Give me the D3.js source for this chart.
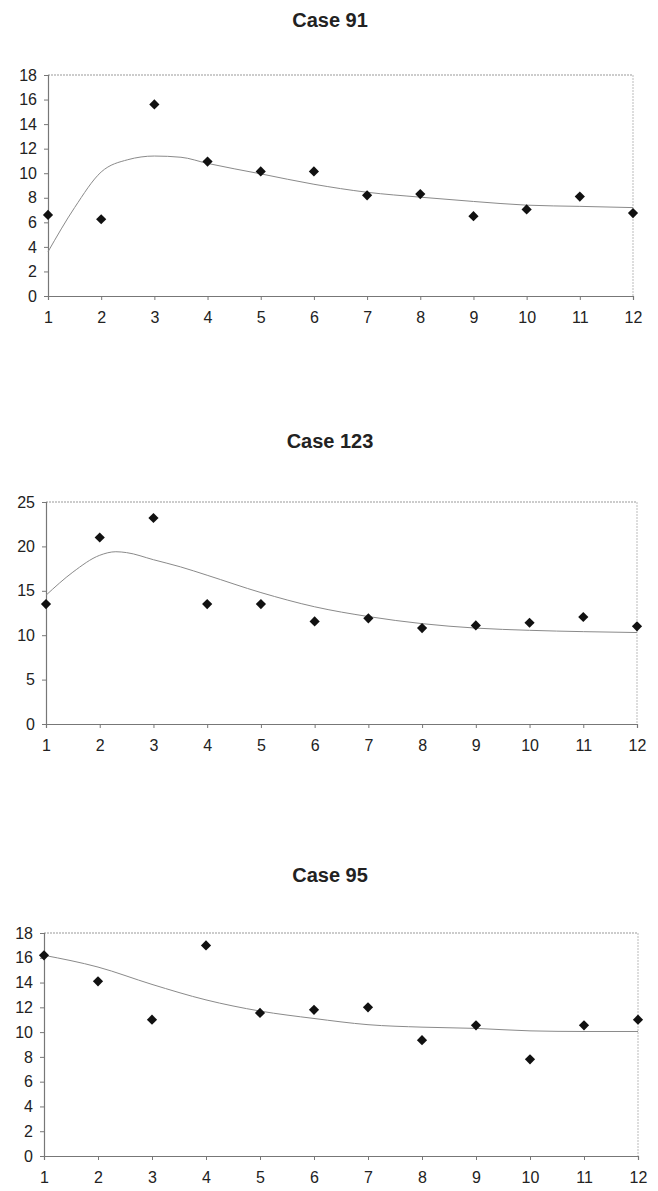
<!DOCTYPE html>
<html>
<head>
<meta charset="utf-8">
<script src="https://cdn.jsdelivr.net/npm/d3@7"></script>
<style>
  html, body { margin: 0; padding: 0; background: #fff; }
  svg { display: block; }
</style>
</head>
<body>
<svg id="chart" width="658" height="1191"></svg>
<script>
// Data
const xTicks = [1, 2, 3, 4, 5, 6, 7, 8, 9, 10, 11, 12];

// Case 91
const obs91 = [6.6, 6.25, 15.6, 10.95, 10.15, 10.15, 8.2, 8.3, 6.5, 7.05, 8.1, 6.75];
const fitX91 = [1, 1.5, 2, 2.5, 3, 3.5, 4, 5, 6, 7, 8, 9, 10, 11, 12];
const fit91 = [3.6, 7.2, 10.1, 11.1, 11.4, 11.3, 10.8, 9.95, 9.1, 8.45, 8.05, 7.7, 7.4, 7.3, 7.2];
const yTicks91 = [0, 2, 4, 6, 8, 10, 12, 14, 16, 18];

// Case 123
const obs123 = [13.5, 21.0, 23.2, 13.5, 13.5, 11.55, 11.9, 10.8, 11.1, 11.4, 12.05, 11.0];
const fitX123 = [1, 1.5, 2, 2.3, 2.5, 3, 3.5, 4, 5, 6, 7, 8, 9, 10, 11, 12];
const fit123 = [14.5, 17.1, 19.0, 19.4, 19.3, 18.5, 17.7, 16.75, 14.8, 13.2, 12.1, 11.3, 10.8, 10.55, 10.4, 10.3];
const yTicks123 = [0, 5, 10, 15, 20, 25];

// Case 95
const obs95 = [16.2, 14.1, 11.0, 17.0, 11.55, 11.8, 12.0, 9.35, 10.55, 7.8, 10.55, 11.0];
const fitX95 = [1, 2, 3, 4, 5, 6, 7, 8, 9, 10, 11, 12];
const fit95 = [16.2, 15.25, 13.85, 12.6, 11.7, 11.1, 10.6, 10.4, 10.3, 10.1, 10.05, 10.05];
const yTicks95 = [0, 2, 4, 6, 8, 10, 12, 14, 16, 18];

const svg = d3.select('#chart');
const font = "'Liberation Sans', Arial, sans-serif";

function drawPanel(opts) {
    const { title, titleY, left, right, top, bottom, yMax, yTicks, obs, fitX, fit } = opts;

    const x = d3.scaleLinear().domain([1, 12]).range([left, right]);
    const y = d3.scaleLinear().domain([0, yMax]).range([bottom, top]);

    const g = svg.append('g');

    // title
    g.append('text')
        .attr('x', 330)
        .attr('y', titleY)
        .attr('text-anchor', 'middle')
        .attr('font-family', font)
        .attr('font-weight', 'bold')
        .attr('font-size', '20px')
        .attr('fill', '#222')
        .text(title);

    // dotted frame on top and right
    g.append('line')
        .attr('x1', left).attr('y1', top).attr('x2', right).attr('y2', top)
        .attr('stroke', '#999').attr('stroke-width', 1).attr('stroke-dasharray', '2,1');
    g.append('line')
        .attr('x1', right).attr('y1', top).attr('x2', right).attr('y2', bottom)
        .attr('stroke', '#bbb').attr('stroke-width', 1).attr('stroke-dasharray', '2,1');

    // y axis
    const yAxis = g.append('g')
        .attr('transform', `translate(${left},0)`)
        .call(d3.axisLeft(y).tickValues(yTicks).tickSize(4).tickPadding(7));
    // x axis
    const xAxis = g.append('g')
        .attr('transform', `translate(0,${bottom})`)
        .call(d3.axisBottom(x).tickValues(xTicks).tickSize(4).tickPadding(12));

    [yAxis, xAxis].forEach(ax => {
        ax.select('.domain').attr('stroke', '#777').attr('stroke-width', 1.2);
        ax.selectAll('.tick line').attr('stroke', '#777');
        ax.selectAll('text')
            .attr('font-family', font)
            .attr('font-size', '16px')
            .attr('fill', '#222');
    });

    // fitted curve
    const line = d3.line()
        .x((d, i) => x(fitX[i]))
        .y(d => y(d))
        .curve(d3.curveMonotoneX);
    g.append('path')
        .datum(fit)
        .attr('d', line)
        .attr('fill', 'none')
        .attr('stroke', '#8a8a8a')
        .attr('stroke-width', 1);

    // observed points (square rotated 45 degrees)
    const marker = d3.symbol().type(d3.symbolSquare).size(52);
    g.selectAll('.pt')
        .data(obs)
        .enter()
        .append('path')
        .attr('class', 'pt')
        .attr('transform', (d, i) => `translate(${x(xTicks[i])},${y(d)}) rotate(45)`)
        .attr('d', marker)
        .attr('fill', '#111');
}

drawPanel({ title: 'Case 91', titleY: 27, left: 48, right: 633, top: 75, bottom: 296,
    yMax: 18, yTicks: yTicks91, obs: obs91, fitX: fitX91, fit: fit91 });
drawPanel({ title: 'Case 123', titleY: 448, left: 46, right: 637, top: 502, bottom: 724,
    yMax: 25, yTicks: yTicks123, obs: obs123, fitX: fitX123, fit: fit123 });
drawPanel({ title: 'Case 95', titleY: 882, left: 44, right: 638, top: 933, bottom: 1156,
    yMax: 18, yTicks: yTicks95, obs: obs95, fitX: fitX95, fit: fit95 });
</script>
</body>
</html>
